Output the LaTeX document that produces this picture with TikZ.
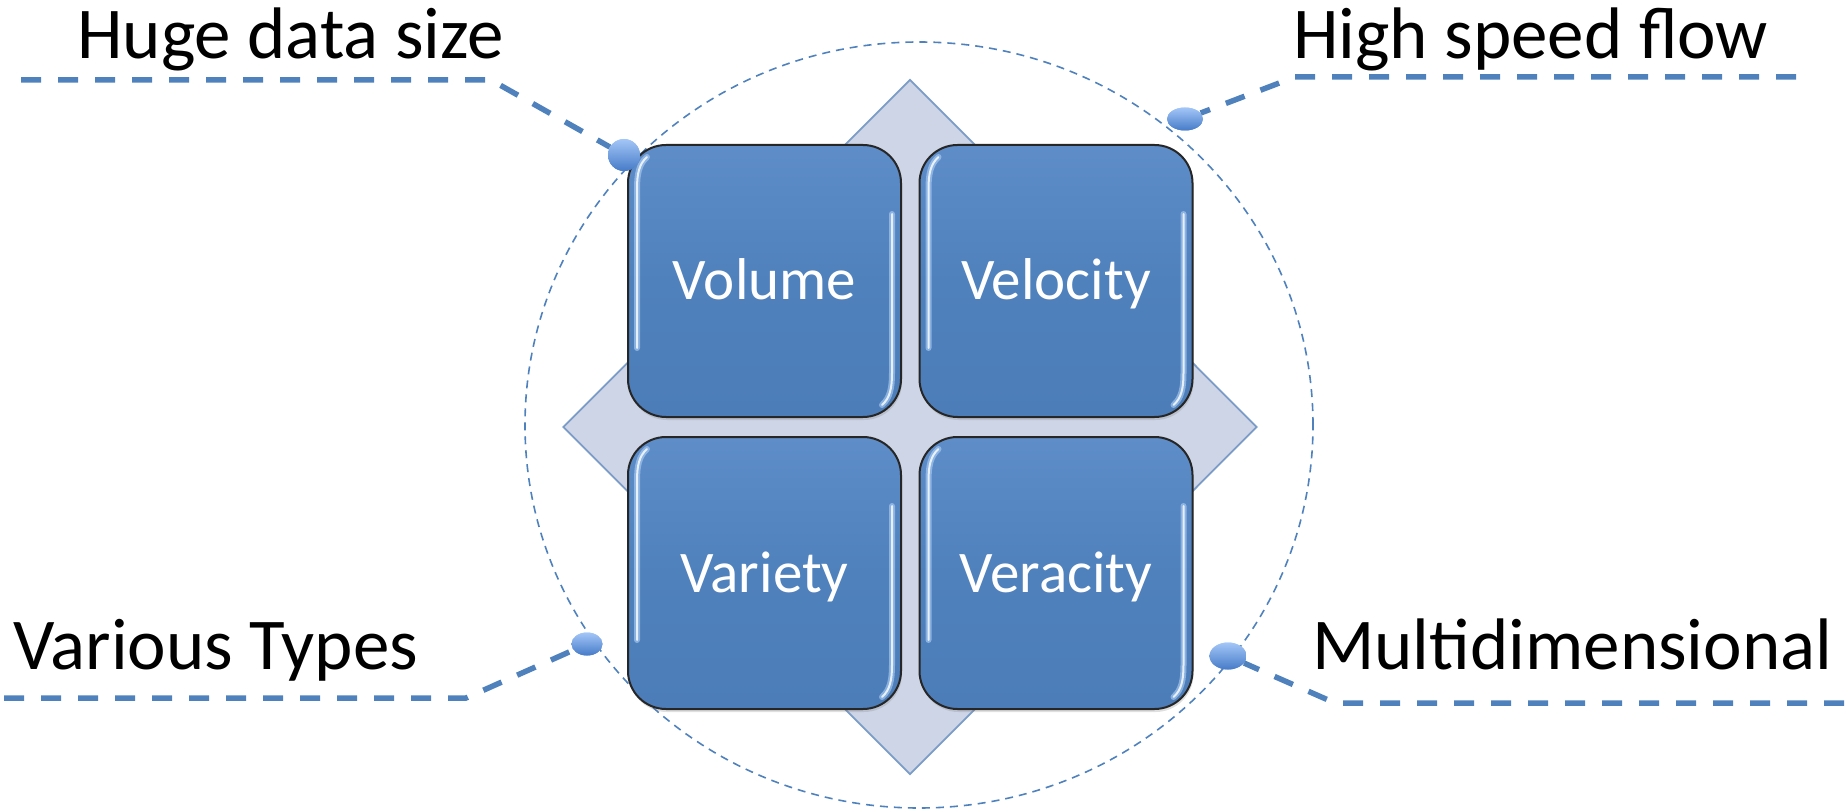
\documentclass[tikz,border=0pt]{standalone}
\usepackage{fontspec}
\setmainfont{Carlito}
\usetikzlibrary{shapes.geometric,shadows}
\definecolor{boxblue}{HTML}{4F81BD}
\definecolor{boxtop}{HTML}{5E8DC8}
\definecolor{boxbot}{HTML}{4C7DB9}
\definecolor{diafill}{HTML}{CDD5E6}
\definecolor{diaedge}{HTML}{7C9CC8}
\definecolor{dotlight}{HTML}{A3C6F7}
\definecolor{dotdark}{HTML}{467BC8}
\definecolor{glintcol}{HTML}{A9CCF4}
\begin{document}
\begin{tikzpicture}[x=1pt,y=-1pt,
  lbl/.style={anchor=base west, inner sep=0pt, font=\fontsize{73}{80}\selectfont, text=black},
  conn/.style={draw=boxblue, line width=5.5pt, dash pattern=on 20pt off 17pt},
  ring/.style={ellipse, draw=boxblue, line width=1.6pt, dash pattern=on 8pt off 6pt, inner sep=0pt},
  vbx/.style={rectangle, rounded corners=38pt, draw=black!85, line width=2pt,
    top color=boxtop, bottom color=boxbot, middle color=boxblue,
    minimum width=273pt, minimum height=272pt, inner sep=0pt,
    drop shadow={opacity=0.25, shadow xshift=1pt, shadow yshift=-3pt}},
  glint/.style={draw=glintcol, line width=6pt, opacity=0.65, line cap=round},
  glintcore/.style={draw=white, line width=2pt, opacity=0.8, line cap=round},
  dotn/.style={ellipse, inner sep=0pt, top color=dotlight, bottom color=dotdark, draw=none},
  boxtext/.style={anchor=base, text=white, font=\fontsize{59}{64}\selectfont, inner sep=0pt},
  dia/.style={diamond, draw=diaedge, fill=diafill, line width=1.8pt, inner sep=0pt,
    minimum width=694pt, minimum height=695pt}
]
\useasboundingbox (0,0) rectangle (1848,810);

% background diamond and dashed ring
\node[dia] (dia) at (910,427) {};
\node[ring, minimum width=788pt, minimum height=766pt] (ring) at (919,425) {};

% four boxes
\foreach \nm/\cx/\cy/\txt in {vol/764.5/281/Volume, vel/1056/281/Velocity, var/764.5/573/Variety, ver/1056/573/Veracity}{
  \node[vbx] (\nm) at (\cx,\cy) {};
  \foreach \gs in {glint,glintcore}{
    \draw[\gs] ([xshift=20pt,yshift=-13pt]\nm.north west)
      .. controls ([xshift=12pt,yshift=-20pt]\nm.north west) and ([xshift=10pt,yshift=-30pt]\nm.north west)
      .. ([xshift=10pt,yshift=-45pt]\nm.north west)
      -- ([xshift=10pt,yshift=70pt]\nm.south west);
    \draw[\gs] ([xshift=-10pt,yshift=-70pt]\nm.north east)
      -- ([xshift=-10pt,yshift=45pt]\nm.south east)
      .. controls ([xshift=-10pt,yshift=30pt]\nm.south east) and ([xshift=-12pt,yshift=20pt]\nm.south east)
      .. ([xshift=-20pt,yshift=13pt]\nm.south east);
  }
  \node[boxtext] (\nm t) at ([yshift=-19pt]\nm.center) {\txt};
}

% dots
\node[dotn, minimum width=32pt, minimum height=32pt] (dTL) at (624,155) {};
\node[dotn, minimum width=36pt, minimum height=23pt] (dTR) at (1185,119) {};
\node[dotn, minimum width=31pt, minimum height=23pt] (dBL) at (587,644) {};
\node[dotn, minimum width=37pt, minimum height=27pt] (dBR) at (1228,656) {};

% connectors
\coordinate (tl0) at (21,80);
\coordinate (tl1) at (491,80);
\coordinate (tr0) at (1796,77);
\coordinate (tr1) at (1295,77);
\coordinate (bl0) at (4,698);
\coordinate (bl1) at (466,698);
\coordinate (br0) at (1844,703);
\coordinate (br1) at (1335,703);
\draw[conn] (tl0) -- (tl1) -- (dTL);
\draw[conn] (tr0) -- (tr1) -- (dTR);
\draw[conn] (bl0) -- (bl1) -- (dBL);
\draw[conn] (br0) -- (br1) -- (dBR);
% redraw dots on top
\node[dotn, minimum width=32pt, minimum height=32pt] at (dTL) {};
\node[dotn, minimum width=36pt, minimum height=23pt] at (dTR) {};
\node[dotn, minimum width=31pt, minimum height=23pt] at (dBL) {};
\node[dotn, minimum width=37pt, minimum height=27pt] at (dBR) {};

% labels
\node[lbl] (lHuge) at (77,59) {Huge data size};
\node[lbl] (lHigh) at (1293,59) {High speed flow};
\node[lbl] (lVar) at (13,669) {Various Types};
\node[lbl] (lMul) at (1312,669) {Multidimensional};
\end{tikzpicture}
\end{document}
